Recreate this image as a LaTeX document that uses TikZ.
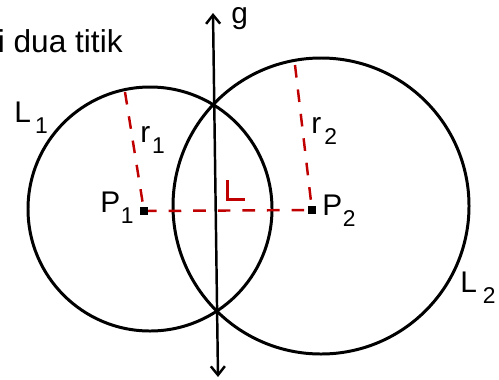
\documentclass[tikz,border=0pt]{standalone}
\usepackage{fontspec}
\setmainfont{Liberation Sans}
\usetikzlibrary{arrows.meta}

\begin{document}
\begin{tikzpicture}[x=0.02cm, y=-0.02cm,
    garis/.style={line width=1.7pt},
    jarak/.style={merah, line width=1.4pt, dash pattern=on 7.2pt off 6.8pt},
    titik/.style={fill=black, minimum size=4pt, inner sep=0pt},
    label/.style={font=\fontsize{17}{20}\selectfont, anchor=base west, inner sep=0pt}]

  % --- Warna ---
  \definecolor{merah}{HTML}{C00000} % jari-jari dan jarak pusat

  % --- Makro: \idx{huruf}{indeks}{kern} ---
  \newcommand{\idx}[3]{#1\kern#3\raisebox{-6.5pt}{\fontsize{13}{13}\selectfont #2}}

  \useasboundingbox (0,0) rectangle (499,379);

  % --- Titik-titik ---
  \coordinate (c1) at (150,209);   % pusat lingkaran L1
  \coordinate (c2) at (321,206);   % pusat lingkaran L2
  \coordinate (P1) at (144,211);
  \coordinate (P2) at (312,210);
  \coordinate (ujung1) at (125,92);
  \coordinate (ujung2) at (295,65);
  \coordinate (gatas) at (213,13);
  \coordinate (gbawah) at (218,377);

  % --- Lingkaran ---
  \draw[garis] (c1) circle[radius=122];
  \draw[garis] (c2) circle[radius=148];

  % --- Garis g ---
  \draw[line width=1.4pt, {Straight Barb[length=5pt,width=8pt]}-{Straight Barb[length=5pt,width=8pt]}]
    (gbawah) -- (gatas);

  % --- Jari-jari dan jarak ---
  \draw[jarak] (ujung1) -- (P1);
  \draw[jarak] (ujung2) -- (P2);
  \draw[jarak] (P1) -- (P2);
  \draw[merah, line width=2.2pt] (227.5,180) -- (227.5,199.5) -- (245,199.5);

  \node[titik] (t1) at (P1) {};
  \node[titik] (t2) at (P2) {};

  % --- Label ---
  \node[label, anchor=base east, font=\fontsize{18}{21}\selectfont] (judul) at (123,52) {i dua titik};
  \node[label] (lg) at (231,23) {g};
  \node[label] (lL1) at (14,122) {\idx{L}{1}{2.3pt}};
  \node[label] (lr1) at (140,142) {\idx{r}{1}{1.1pt}};
  \node[label] (lP1) at (100,212) {\idx{P}{1}{0.3pt}};
  \node[label] (lP2) at (322,215) {\idx{P}{2}{0.3pt}};
  \node[label] (lr2) at (311,133) {\idx{r}{2}{1.7pt}};
  \node[label] (lL2) at (460,292) {\idx{L}{2}{3.4pt}};

\end{tikzpicture}
\end{document}
